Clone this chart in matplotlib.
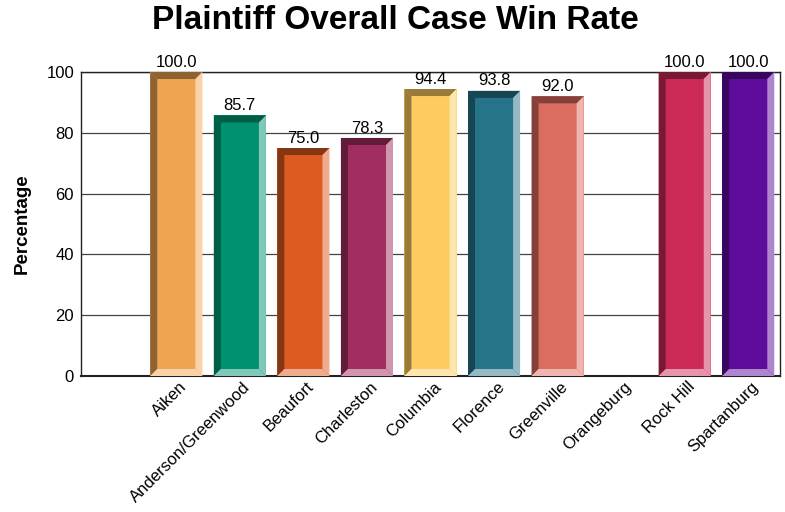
import numpy as np
import matplotlib
matplotlib.use('Agg')
import matplotlib.pyplot as plt
import matplotlib.transforms as mtransforms
from matplotlib.patches import Polygon

plt.rcParams['font.family'] = ['Liberation Sans', 'DejaVu Sans']

# dane
offices = ['Aiken', 'Anderson/Greenwood', 'Beaufort', 'Charleston', 'Columbia',
           'Florence', 'Greenville', 'Orangeburg', 'Rock Hill', 'Spartanburg']
win_rate = [100.0, 85.7, 75.0, 78.3, 94.4, 93.8, 92.0, np.nan, 100.0, 100.0]
face_colors = ['#EFA453', '#009270', '#DD5A20', '#A22E5F', '#FDCB5F',
               '#26748A', '#DC6C60', '#888888', '#CC2A56', '#5F0B9C']
dark_colors = ['#8F6232', '#005E47', '#853613', '#611C39', '#987A39',
               '#174653', '#84413A', '#555555', '#7A1934', '#39065E']
light_colors = ['#F8D2A8', '#80C8B7', '#EEAC8F', '#D096AF', '#FEE5AF',
                '#92B9C4', '#EEB5AF', '#CCCCCC', '#E694AA', '#AF85CD']

fig = plt.figure(figsize=(7.85, 5.12), dpi=100)
ax = fig.add_axes([81 / 785, 136 / 512, 699 / 785, 304 / 512])

x = np.arange(len(offices))
width = 0.82
ax.set_xlim(-1.5, 9.5)
ax.set_ylim(0, 100)

# glebokosc skosu w jednostkach danych (ok. 7 px)
dx = 7 / 699 * 11
dy = 7 / 304 * 100

for i, v in enumerate(win_rate):
    if np.isnan(v):
        continue
    x0, x1 = x[i] - width / 2, x[i] + width / 2
    ax.bar(x[i], v, width, color=face_colors[i], zorder=3)
    left = [(x0, 0), (x0, v), (x0 + dx, v - dy), (x0 + dx, dy)]
    top = [(x0, v), (x1, v), (x1 - dx, v - dy), (x0 + dx, v - dy)]
    right = [(x1, v), (x1, 0), (x1 - dx, dy), (x1 - dx, v - dy)]
    bottom = [(x0, 0), (x1, 0), (x1 - dx, dy), (x0 + dx, dy)]
    for pts, c in [(left, dark_colors[i]), (top, dark_colors[i]),
                   (right, light_colors[i]), (bottom, light_colors[i])]:
        ax.add_patch(Polygon(pts, closed=True, facecolor=c, edgecolor='none', zorder=4))
    ax.text(x[i], v + 0.8, f'{v:.1f}', ha='center', va='bottom', fontsize=12, zorder=5)

ax.set_yticks([0, 20, 40, 60, 80, 100])
ax.yaxis.grid(True, color='#444444', linewidth=0.9, zorder=0)
ax.set_axisbelow(True)
ax.tick_params(axis='y', length=0, labelsize=12, pad=5)
ax.tick_params(axis='x', length=0, labelsize=12, pad=6)
ax.set_xticks(x)
ax.set_xticklabels(offices, rotation=45, ha='right', va='center', rotation_mode='anchor')
shift = mtransforms.ScaledTranslation(8 / 100, 0, fig.dpi_scale_trans)
for lab in ax.get_xticklabels():
    lab.set_transform(lab.get_transform() + shift)

for s in ax.spines.values():
    s.set_color('#222222')
    s.set_linewidth(1.0)
ax.spines['bottom'].set_linewidth(1.5)

ax.set_ylabel('Percentage', fontsize=13.5, fontweight='bold', labelpad=11)
fig.suptitle('Plaintiff Overall Case Win Rate', fontsize=24, fontweight='bold', y=0.99, x=0.504)

fig.savefig('out.png', dpi=100)
